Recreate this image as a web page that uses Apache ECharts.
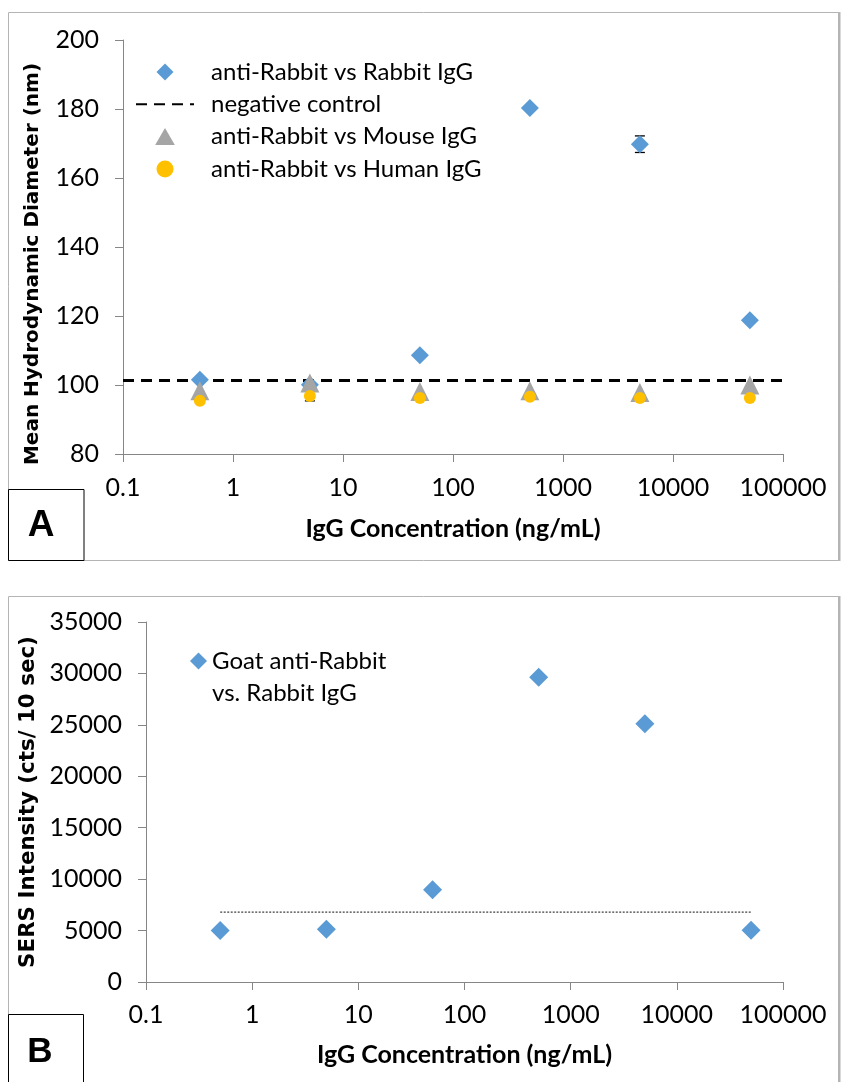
<!DOCTYPE html>
<html>
<head>
<meta charset="utf-8">
<script src="https://cdn.jsdelivr.net/npm/echarts@6/dist/echarts.min.js"></script>
<style>
html,body{margin:0;padding:0;background:#fff;}
#chart{width:841px;height:1082px;}
</style>
</head>
<body>
<div id="chart"></div>
<script>
// ---------- data ----------
const concentrations = [0.5, 5, 50, 500, 5000, 50000];
const xTickLabels = ['0.1', '1', '10', '100', '1000', '10000', '100000'];

// Panel A (DLS)
const rabbitIgG = [101.5, 100.1, 108.6, 180.3, 169.8, 118.8];
const rabbitIgGErr = [0, 0, 0, 0, 2.4, 0];
const mouseIgG = [98.3, 100.6, 98.1, 98.3, 97.8, 100.0];
const humanIgG = [95.4, 96.8, 96.2, 96.6, 96.2, 96.2];
const humanIgGErr = [0, 1.4, 0, 0, 0, 0];
const negControlValue = 101.3;
const negControlRange = [0.1, 100000];
const yTicksA = [80, 100, 120, 140, 160, 180, 200];

// Panel B (SERS)
const sersRabbit = [5000, 5120, 8980, 29640, 25110, 5025];
const sersBaseline = 6800;
const sersBaselineRange = [0.5, 50000];
const yTicksB = [0, 5000, 10000, 15000, 20000, 25000, 30000, 35000];

const namesA = ['anti-Rabbit vs Rabbit IgG', 'negative control', 'anti-Rabbit vs Mouse IgG', 'anti-Rabbit vs Human IgG'];
const nameB = 'Goat anti-Rabbit vs. Rabbit IgG';
const nameBLines = ['Goat anti-Rabbit', 'vs. Rabbit IgG'];

// ---------- helpers ----------
const pairs = (xs, ys) => xs.map((x, i) => [x, ys[i]]);
const errPairs = (xs, ys, es) => xs.map((x, i) => [x, ys[i], es[i]]).filter(d => d[2] > 0);
const fmtX = v => xTickLabels[Math.round(Math.log10(v)) + 1];
const fmtY = v => String(Math.round(v));

const FONT = 'Lato';
const TITLE_FONT = 'DejaVu Sans';
const axisGray = '#868686';
const DIAMOND_ICON = 'path://M0,-1L1,0L0,1L-1,0Z';
const TRIANGLE_ICON = 'path://M0,0L1.1,1.9L-1.1,1.9Z';
const CLEAR = 'rgba(0,0,0,0)';

function errorBarSeries(data, xi, yi) {
  return {
    type: 'custom', xAxisIndex: xi, yAxisIndex: yi, z: 1,
    data: data,
    renderItem: function (params, api) {
      const x = api.value(0), y = api.value(1), e = api.value(2);
      const hi = api.coord([x, y + e]);
      const lo = api.coord([x, y - e]);
      const hw = 5;
      const style = { stroke: '#000', lineWidth: 1.3 };
      return {
        type: 'group',
        children: [
          { type: 'line', shape: { x1: hi[0], y1: hi[1], x2: lo[0], y2: lo[1] }, style },
          { type: 'line', shape: { x1: hi[0] - hw, y1: hi[1], x2: hi[0] + hw, y2: hi[1] }, style },
          { type: 'line', shape: { x1: lo[0] - hw, y1: lo[1], x2: lo[0] + hw, y2: lo[1] }, style }
        ]
      };
    }
  };
}

function xAxisCfg(gi, labelMargin, nameGap) {
  return {
    type: 'log', logBase: 10, gridIndex: gi, min: 0.1, max: 100000, splitNumber: 6,
    name: 'IgG Concentration (ng/mL)', nameLocation: 'middle', nameGap: nameGap,
    nameTextStyle: { fontFamily: FONT, fontWeight: 'bold', fontSize: 25, color: '#000' },
    axisLine: { onZero: false, lineStyle: { color: axisGray, width: 1 } },
    axisTick: { show: true, inside: false, length: 8, lineStyle: { color: axisGray } },
    minorTick: { show: false },
    splitLine: { show: false },
    axisLabel: { formatter: fmtX, fontFamily: FONT, fontSize: 25, color: '#000', margin: labelMargin }
  };
}

function yAxisCfg(gi, ticks, name, nameGap, nameSize, namePadding) {
  return {
    type: 'value', gridIndex: gi, min: ticks[0], max: ticks[ticks.length - 1], interval: ticks[1] - ticks[0],
    name: name, nameLocation: 'middle', nameGap: nameGap, nameRotate: 90,
    nameTextStyle: { fontFamily: TITLE_FONT, fontWeight: 'bold', fontSize: nameSize, color: '#000', padding: namePadding },
    axisLine: { show: true, lineStyle: { color: axisGray, width: 1 } },
    axisTick: { show: true, inside: false, length: 8, lineStyle: { color: axisGray } },
    splitLine: { show: false },
    axisLabel: { formatter: fmtY, fontFamily: FONT, fontSize: 25, color: '#000', margin: 24 }
  };
}

const chart = echarts.init(document.getElementById('chart'), null, { renderer: 'canvas' });

const option = {
  backgroundColor: '#fff',
  animation: false,
  grid: [
    { left: 123, top: 40, width: 660, height: 414, outerBoundsMode: 'none' },
    { left: 146, top: 622, width: 637, height: 360, outerBoundsMode: 'none' }
  ],
  xAxis: [xAxisCfg(0, 21, 62), xAxisCfg(1, 20, 60)],
  yAxis: [
    yAxisCfg(0, yTicksA, 'Mean Hydrodynamic Diameter (nm)', 80, 20, [0, 34, 0, 0]),
    yAxisCfg(1, yTicksB, 'SERS Intensity (cts/ 10 sec)', 104, 21.4, [0, 0, 0, 0])
  ],
  legend: [
    {
      orient: 'vertical', left: 135, top: 56, padding: 0,
      itemWidth: 58, itemHeight: 17, itemGap: 0.3,
      data: [
        { name: namesA[0], icon: DIAMOND_ICON },
        { name: namesA[1], itemStyle: { color: CLEAR, borderColor: CLEAR, borderWidth: 0, opacity: 0 } },
        { name: namesA[2], icon: TRIANGLE_ICON },
        { name: namesA[3], icon: 'circle' }
      ],
      symbolKeepAspect: true,
      textStyle: { fontFamily: FONT, fontSize: 24, color: '#000', lineHeight: 32, padding: [0, 0, 0, 12] }
    },
    {
      orient: 'vertical', left: 190, top: 613, padding: 0,
      itemWidth: 17, itemHeight: 17,
      data: [{ name: nameB, icon: DIAMOND_ICON }],
      symbolKeepAspect: true,
      formatter: () => ' \n' + nameBLines.join('\n'),
      textStyle: { fontFamily: FONT, fontSize: 24, color: '#000', lineHeight: 32, padding: [0, 0, 0, 0] }
    }
  ],
  graphic: [
    { type: 'rect', silent: true, z: -10, shape: { x: 8.5, y: 12.5, width: 830, height: 548 }, style: { fill: 'none', stroke: '#b4b4b4', lineWidth: 1 } },
    { type: 'line', silent: true, z: -10, shape: { x1: 839.5, y1: 12, x2: 839.5, y2: 561 }, style: { stroke: '#b4b4b4', lineWidth: 2 } },
    { type: 'rect', silent: true, z: -10, shape: { x: 8.5, y: 596.5, width: 830, height: 500 }, style: { fill: 'none', stroke: '#b4b4b4', lineWidth: 1 } },
    { type: 'line', silent: true, z: -10, shape: { x1: 839.5, y1: 596, x2: 839.5, y2: 1082 }, style: { stroke: '#b4b4b4', lineWidth: 2 } },
    { type: 'rect', silent: true, z: 10, shape: { x: 8.5, y: 489.5, width: 75.5, height: 71 }, style: { fill: '#fff', stroke: '#000', lineWidth: 1 } },
    { type: 'text', silent: true, z: 11, style: { x: 41, y: 526, text: 'A', fontFamily: 'Liberation Sans', fontWeight: 'bold', fontSize: 37, fill: '#000', align: 'center', verticalAlign: 'middle' } },
    { type: 'rect', silent: true, z: 10, shape: { x: 8.5, y: 1014.5, width: 75, height: 80 }, style: { fill: '#fff', stroke: '#000', lineWidth: 1 } },
    { type: 'text', silent: true, z: 11, style: { x: 40, y: 1052, text: 'B', fontFamily: 'Liberation Sans', fontWeight: 'bold', fontSize: 35, fill: '#000', align: 'center', verticalAlign: 'middle' } }
  ],
  series: [
    errorBarSeries(errPairs(concentrations, rabbitIgG, rabbitIgGErr), 0, 0),
    errorBarSeries(errPairs(concentrations, humanIgG, humanIgGErr), 0, 0),
    {
      name: namesA[0], type: 'scatter', xAxisIndex: 0, yAxisIndex: 0, z: 2,
      symbol: 'diamond', symbolSize: 18,
      itemStyle: { color: '#5B9BD5', opacity: 1 },
      data: pairs(concentrations, rabbitIgG)
    },
    {
      name: namesA[1], type: 'line', xAxisIndex: 0, yAxisIndex: 0, z: 2,
      symbol: 'none', showSymbol: false,
      lineStyle: { color: '#000', width: 3, type: [11, 7] },
      itemStyle: { color: CLEAR, borderColor: CLEAR, borderWidth: 0 },
      data: pairs(negControlRange, negControlRange.map(() => negControlValue))
    },
    {
      name: namesA[2], type: 'scatter', xAxisIndex: 0, yAxisIndex: 0, z: 2,
      symbol: 'triangle', symbolSize: [19, 19],
      itemStyle: { color: '#A5A5A5', opacity: 1 },
      data: pairs(concentrations, mouseIgG)
    },
    {
      name: namesA[3], type: 'scatter', xAxisIndex: 0, yAxisIndex: 0, z: 2,
      symbol: 'circle', symbolSize: 12,
      itemStyle: { color: '#FFC000', opacity: 1 },
      data: pairs(concentrations, humanIgG)
    },
    {
      name: nameB, type: 'scatter', xAxisIndex: 1, yAxisIndex: 1, z: 3,
      symbol: 'diamond', symbolSize: 19,
      itemStyle: { color: '#5B9BD5', opacity: 1 },
      data: pairs(concentrations, sersRabbit)
    },
    {
      name: 'SERS baseline', type: 'line', xAxisIndex: 1, yAxisIndex: 1, z: 2,
      symbol: 'none', showSymbol: false,
      lineStyle: { color: '#404040', width: 1.2, type: [2, 1.5] },
      data: pairs(sersBaselineRange, sersBaselineRange.map(() => sersBaseline))
    }
  ]
};
chart.setOption(option);
</script>
</body>
</html>
